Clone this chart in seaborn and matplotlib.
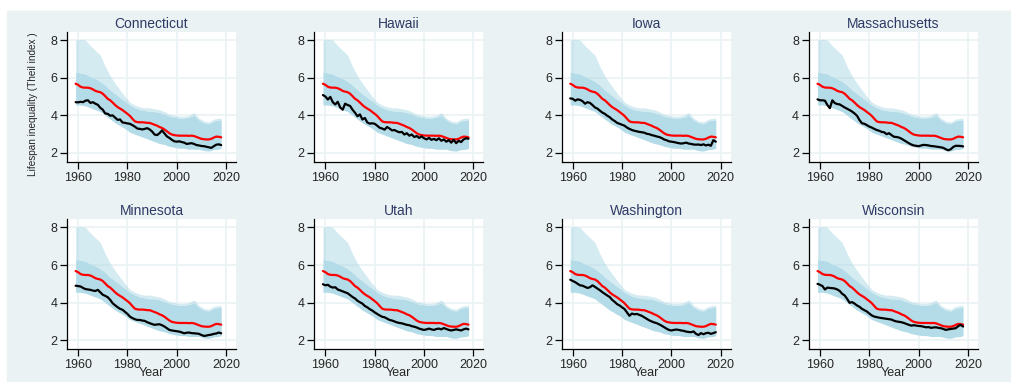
import matplotlib
matplotlib.use("Agg")
import matplotlib.pyplot as plt
from matplotlib.patches import Rectangle
import seaborn as sns

# ---- data -------------------------------------------------------------
years = list(range(1959, 2019))

states = ["Connecticut", "Hawaii", "Iowa", "Massachusetts",
          "Minnesota", "Utah", "Washington", "Wisconsin"]

# national reference series (red)
us_avg = [5.68, 5.62, 5.52, 5.48, 5.47, 5.47, 5.44, 5.38, 5.30, 5.26,
          5.23, 5.15, 5.02, 4.88, 4.80, 4.68, 4.55, 4.44, 4.36, 4.28,
          4.18, 4.08, 3.97, 3.82, 3.68, 3.64, 3.63, 3.63, 3.62, 3.60,
          3.60, 3.55, 3.50, 3.45, 3.38, 3.33, 3.25, 3.15, 3.05, 2.98,
          2.95, 2.93, 2.92, 2.92, 2.92, 2.92, 2.91, 2.92, 2.90, 2.85,
          2.80, 2.75, 2.73, 2.72, 2.72, 2.75, 2.82, 2.87, 2.86, 2.83]

connecticut = [4.70, 4.69, 4.72, 4.70, 4.78, 4.80, 4.66, 4.70, 4.62, 4.56,
               4.40, 4.30, 4.10, 4.08, 3.98, 4.00, 3.88, 3.76, 3.78, 3.62,
               3.60, 3.57, 3.55, 3.48, 3.40, 3.30, 3.28, 3.25, 3.28, 3.32,
               3.25, 3.14, 2.98, 2.95, 3.05, 3.20, 3.04, 2.88, 2.80, 2.70,
               2.62, 2.60, 2.62, 2.58, 2.55, 2.48, 2.50, 2.52, 2.48, 2.42,
               2.40, 2.37, 2.36, 2.33, 2.30, 2.27, 2.36, 2.44, 2.46, 2.42]

hawaii = [5.08, 5.00, 4.84, 4.98, 4.70, 4.58, 4.72, 4.42, 4.30, 4.62,
          4.55, 4.50, 4.30, 4.14, 3.95, 4.05, 3.78, 3.86, 3.62, 3.56,
          3.58, 3.55, 3.45, 3.34, 3.30, 3.24, 3.38, 3.30, 3.20, 3.22,
          3.15, 3.10, 3.12, 2.98, 3.05, 2.92, 2.98, 2.85, 2.90, 2.80,
          2.88, 2.78, 2.72, 2.80, 2.70, 2.75, 2.68, 2.78, 2.65, 2.72,
          2.60, 2.68, 2.55, 2.70, 2.52, 2.65, 2.58, 2.72, 2.78, 2.76]

iowa = [4.90, 4.88, 4.78, 4.85, 4.82, 4.75, 4.62, 4.70, 4.66, 4.55,
        4.42, 4.36, 4.25, 4.15, 4.08, 3.98, 3.90, 3.78, 3.70, 3.60,
        3.55, 3.50, 3.45, 3.35, 3.28, 3.22, 3.18, 3.15, 3.12, 3.10,
        3.08, 3.02, 3.00, 2.95, 2.92, 2.88, 2.85, 2.80, 2.72, 2.68,
        2.62, 2.60, 2.58, 2.55, 2.52, 2.50, 2.52, 2.55, 2.50, 2.48,
        2.45, 2.44, 2.45, 2.42, 2.46, 2.40, 2.44, 2.38, 2.68, 2.60]

massachusetts = [4.85, 4.80, 4.80, 4.78, 4.55, 4.38, 4.80, 4.65, 4.60, 4.58,
                 4.50, 4.42, 4.35, 4.28, 4.20, 4.10, 3.98, 3.75, 3.58, 3.55,
                 3.48, 3.40, 3.35, 3.28, 3.22, 3.18, 3.12, 3.10, 3.00, 3.05,
                 2.95, 2.86, 2.85, 2.82, 2.76, 2.68, 2.60, 2.52, 2.45, 2.40,
                 2.38, 2.36, 2.40, 2.43, 2.42, 2.40, 2.37, 2.36, 2.34, 2.32,
                 2.30, 2.27, 2.20, 2.14, 2.20, 2.32, 2.38, 2.38, 2.37, 2.35]

minnesota = [4.90, 4.88, 4.86, 4.78, 4.72, 4.70, 4.68, 4.64, 4.62, 4.68,
             4.55, 4.42, 4.36, 4.29, 4.15, 3.97, 3.86, 3.76, 3.67, 3.62,
             3.51, 3.40, 3.26, 3.18, 3.12, 3.08, 3.08, 3.05, 3.03, 2.96,
             2.91, 2.86, 2.82, 2.84, 2.85, 2.80, 2.73, 2.64, 2.55, 2.52,
             2.50, 2.48, 2.46, 2.42, 2.37, 2.40, 2.41, 2.38, 2.37, 2.36,
             2.34, 2.28, 2.23, 2.25, 2.28, 2.30, 2.34, 2.36, 2.41, 2.37]

utah = [4.98, 4.92, 4.95, 4.85, 4.80, 4.82, 4.70, 4.65, 4.60, 4.55,
        4.50, 4.40, 4.30, 4.22, 4.10, 4.02, 3.95, 3.82, 3.75, 3.65,
        3.58, 3.48, 3.40, 3.32, 3.25, 3.22, 3.15, 3.08, 3.05, 3.00,
        2.95, 2.92, 2.90, 2.86, 2.82, 2.80, 2.75, 2.72, 2.68, 2.62,
        2.58, 2.55, 2.58, 2.62, 2.58, 2.55, 2.60, 2.62, 2.58, 2.65,
        2.60, 2.55, 2.52, 2.55, 2.58, 2.55, 2.52, 2.58, 2.62, 2.58]

washington = [5.22, 5.15, 5.09, 5.00, 4.92, 4.90, 4.84, 4.78, 4.82, 4.92,
              4.84, 4.75, 4.66, 4.56, 4.47, 4.38, 4.30, 4.15, 4.04, 3.92,
              3.85, 3.75, 3.66, 3.48, 3.30, 3.42, 3.38, 3.40, 3.35, 3.30,
              3.22, 3.14, 3.06, 3.00, 2.95, 2.91, 2.85, 2.78, 2.70, 2.62,
              2.55, 2.52, 2.55, 2.57, 2.55, 2.52, 2.50, 2.46, 2.44, 2.43,
              2.47, 2.34, 2.28, 2.38, 2.32, 2.38, 2.40, 2.34, 2.38, 2.43]

wisconsin = [5.00, 4.95, 4.88, 4.70, 4.80, 4.78, 4.77, 4.75, 4.70, 4.62,
             4.47, 4.38, 4.20, 3.99, 4.03, 3.95, 3.85, 3.78, 3.67, 3.60,
             3.53, 3.42, 3.32, 3.26, 3.23, 3.20, 3.18, 3.16, 3.14, 3.12,
             3.10, 3.04, 3.00, 2.98, 2.96, 2.92, 2.87, 2.82, 2.78, 2.80,
             2.78, 2.76, 2.75, 2.72, 2.69, 2.70, 2.66, 2.68, 2.69, 2.66,
             2.64, 2.60, 2.55, 2.58, 2.60, 2.62, 2.64, 2.75, 2.82, 2.73]

state_series = [connecticut, hawaii, iowa, massachusetts,
                minnesota, utah, washington, wisconsin]

# spread of all states (light-blue cloud): lower edge, top of the dense
# part and the highest scattered values
env_years = [1959, 1961, 1963, 1965, 1967, 1969, 1971, 1973, 1975, 1977,
             1979, 1981, 1983, 1985, 1987, 1989, 1991, 1993, 1995, 1997,
             1999, 2001, 2003, 2005, 2007, 2009, 2011, 2013, 2015, 2017, 2018]
cloud_low = [4.55, 4.55, 4.50, 4.40, 4.30, 4.20, 4.00, 3.80, 3.60, 3.45,
             3.30, 3.10, 3.00, 2.90, 2.80, 2.70, 2.60, 2.50, 2.45, 2.35,
             2.30, 2.25, 2.25, 2.20, 2.20, 2.20, 2.12, 2.10, 2.18, 2.20, 2.25]
cloud_dense = [6.30, 6.25, 6.20, 6.05, 5.95, 5.80, 5.60, 5.35, 5.15, 4.95,
               4.75, 4.55, 4.40, 4.30, 4.25, 4.20, 4.20, 4.15, 4.05, 3.95,
               3.90, 3.85, 3.85, 3.90, 4.00, 3.75, 3.60, 3.55, 3.70, 3.75, 3.75]
cloud_top = [8.00, 8.05, 8.00, 7.70, 7.45, 7.20, 6.60, 6.10, 5.70, 5.35,
             5.00, 4.70, 4.55, 4.45, 4.40, 4.40, 4.35, 4.30, 4.20, 4.05,
             4.00, 3.95, 3.95, 4.00, 4.15, 3.85, 3.70, 3.65, 3.80, 3.85, 3.85]

x_ticks = [1960, 1980, 2000, 2020]
y_ticks = [2, 4, 6, 8]

# ---- style ------------------------------------------------------------
sns.set_style("white")
plt.rcParams["font.family"] = ["Liberation Sans", "DejaVu Sans"]

BG = "#EAF2F3"
CLOUD = "#ADD8E6"
CLOUD_DENSE = "#B3DBE8"
TITLE_C = "#2E3A66"

W, H = 1012, 382
fig = plt.figure(figsize=(W / 100, H / 100), dpi=100, facecolor="white")
fig.patches.append(Rectangle((7 / W, 0), 1 - 7 / W, (H - 11) / H,
                             transform=fig.transFigure, color=BG, zorder=-10))

ax_w, ax_h = 169, 130
for i, (name, vals) in enumerate(zip(states, state_series)):
    r, c = divmod(i, 4)
    left = 67 + c * 247.3
    top = 32 + r * 187.3
    ax = fig.add_axes([left / W, 1 - (top + ax_h) / H, ax_w / W, ax_h / H])
    ax.set_facecolor("white")

    ax.fill_between(env_years, cloud_dense, cloud_top, color=CLOUD,
                    alpha=0.5, lw=0, zorder=1)
    ax.fill_between(env_years, cloud_low, cloud_dense, color=CLOUD_DENSE,
                    lw=0, zorder=1)
    sns.lineplot(x=years, y=us_avg, color="red", lw=1.6, ax=ax, zorder=3)
    sns.lineplot(x=years, y=vals, color="black", lw=1.6, ax=ax, zorder=4)

    ax.set_xlim(1955.5, 2024)
    ax.set_ylim(1.52, 8.43)
    ax.set_xticks(x_ticks)
    ax.set_yticks(y_ticks)
    ax.grid(True, color=BG, lw=1.2)
    ax.set_axisbelow(True)
    for s in ("top", "right"):
        ax.spines[s].set_visible(False)
    for s in ("left", "bottom"):
        ax.spines[s].set_color("black")
        ax.spines[s].set_linewidth(0.9)
    ax.tick_params(direction="out", length=5, width=0.9, color="black",
                   labelsize=9, pad=2, left=True, bottom=True)
    ax.set_xlabel("")
    ax.set_ylabel("")
    ax.text(0.5, 1 + 8 / ax_h, name, transform=ax.transAxes, ha="center",
            va="center", fontsize=10, color=TITLE_C)
    if r == 1:
        fig.text((left + ax_w / 2) / W, 1 - 373 / H, "Year", ha="center",
                 va="center", fontsize=9)

fig.text(33 / W, 1 - 104 / H, "Lifespan inequality (Theil index )",
         rotation=90, ha="center", va="center", fontsize=7.2)

fig.savefig("out.png", dpi=100, facecolor="white")
